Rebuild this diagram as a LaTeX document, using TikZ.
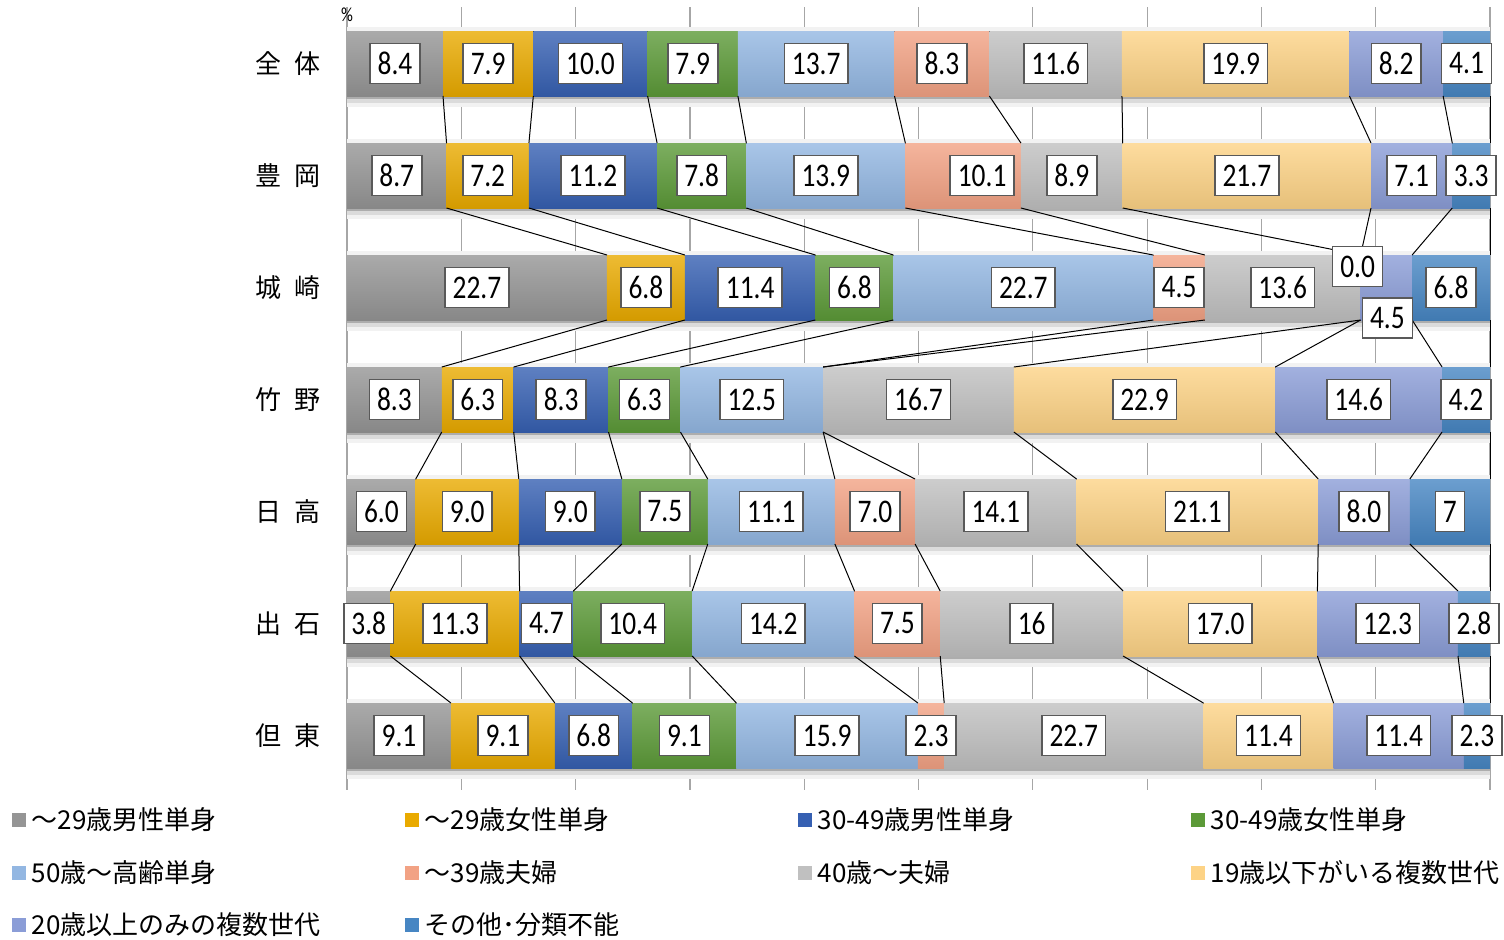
\documentclass[tikz,border=0pt]{standalone}
\usepackage{fontspec}
\setmainfont{Carlito}[FakeStretch=0.83]
\newfontfamily\jpfont{Noto Sans CJK JP}
\usetikzlibrary{positioning}

\definecolor{c1}{HTML}{959595}
\definecolor{c2}{HTML}{E9AA00}
\definecolor{c3}{HTML}{3660B2}
\definecolor{c4}{HTML}{5C9A38}
\definecolor{c5}{HTML}{93B7E2}
\definecolor{c6}{HTML}{F2A284}
\definecolor{c7}{HTML}{C0C0C0}
\definecolor{c8}{HTML}{FDD386}
\definecolor{c9}{HTML}{8B9DD7}
\definecolor{c10}{HTML}{4786C3}

\def\hhdata{%
  全\hspace{6.5pt}体/{8.4,7.9,10.0,7.9,13.7,8.3,11.6,19.9,8.2,4.1},
  豊\hspace{6.5pt}岡/{8.7,7.2,11.2,7.8,13.9,10.1,8.9,21.7,7.1,3.3},
  城\hspace{6.5pt}崎/{22.7,6.8,11.4,6.8,22.7,4.5,13.6,0.0,4.5,6.8},
  竹\hspace{6.5pt}野/{8.3,6.3,8.3,6.3,12.5,0,16.7,22.9,14.6,4.2},
  日\hspace{6.5pt}高/{6.0,9.0,9.0,7.5,11.1,7.0,14.1,21.1,8.0,7},
  出\hspace{6.5pt}石/{3.8,11.3,4.7,10.4,14.2,7.5,16,17.0,12.3,2.8},
  但\hspace{6.5pt}東/{9.1,9.1,6.8,9.1,15.9,2.3,22.7,11.4,11.4,2.3}}

\newcommand\nolabel[1]{\expandafter\def\csname skip#1\endcsname{}}
\nolabel{1-6}
\nolabel{2-8}
\nolabel{2-9}
\nolabel{3-6}

\begin{document}
\begin{tikzpicture}[x=0.5pt,y=-0.5pt,
    grid/.style={draw=black!35,line width=0.6pt},
    serie/.style={draw=black,line width=0.5pt},
    val/.style={draw=black!65,line width=0.8pt,fill=white,
        inner xsep=3.8pt,inner ysep=0pt,minimum height=20pt,
        font=\fontsize{16.5}{16.5}\selectfont},
    rowname/.style={anchor=east,inner sep=0pt,
        font=\jpfont\fontsize{13}{13}\selectfont},
    legbox/.style={minimum size=7pt,inner sep=0pt},
    legtext/.style={inner sep=0pt,font=\jpfont\fontsize{13}{13}\selectfont}]
    \useasboundingbox (0,0) rectangle (1504,939);

    \foreach \i in {0,...,10}
        \draw[grid] (347+114.3*\i,7) -- (347+114.3*\i,790);

    \node[anchor=base,inner sep=0pt,font=\fontsize{10}{10}\selectfont] (pct) at (347,21) {\%};

    \foreach \rname/\vals [count=\row from 0] in \hhdata {
        \pgfmathsetmacro\cy{63.5+112*\row}
        \fill[black!5] (347,\cy-36.5) rectangle (1490,\cy-32.5);
        \fill[black!32] (347,\cy+32.5) rectangle (1490,\cy+35.5);
        \fill[black!14] (347,\cy+35.5) rectangle (1490,\cy+39.5);
        \fill[black!5] (347,\cy+39.5) rectangle (1490,\cy+43.5);
        \xdef\tot{0}
        \foreach \v in \vals {\pgfmathsetmacro\tnew{\tot+\v}\xdef\tot{\tnew}}
        \xdef\cum{0}
        \foreach \v [count=\cat] in \vals {
            \pgfmathsetmacro\xa{347+\cum/\tot*1143}
            \pgfmathsetmacro\cnew{\cum+\v}\xdef\cum{\cnew}
            \pgfmathsetmacro\xb{347+\cum/\tot*1143}
            \ifdim\v pt>0pt
                \fill[top color=c\cat!80!white,bottom color=c\cat!91!black]
                    (\xa,\cy-32.5) rectangle (\xb,\cy+32.5);
            \fi
            \coordinate (m\row-\cat) at ({(\xa+\xb)/2},\cy);
            \coordinate (t\row-\cat) at (\xb,\cy-32.5);
            \coordinate (b\row-\cat) at (\xb,\cy+32.5);
        }
    }

    \foreach \row [evaluate=\row as \nxt using int(\row+1)] in {0,...,5}
        \foreach \cat in {1,...,10}
            \draw[serie] (b\row-\cat) -- (t\nxt-\cat);

    \foreach \rname/\vals [count=\row from 0] in \hhdata {
        \node[rowname] (row\row) at (321,63.5+112*\row) {\rname};
        \foreach \v [count=\cat] in \vals {
            \ifcsname skip\row-\cat\endcsname\else
                \node[val] (v\row-\cat) at (m\row-\cat) {\v};
            \fi
        }
    }
    \node[val] (v1-6) at ([shift={(19,0)}]m1-6) {10.1};
    \node[val] (v2-8) at ([shift={(-3,-21)}]m2-8) {0.0};
    \node[val] (v2-9) at ([shift={(1,30.5)}]m2-9) {4.5};

    \foreach \lab [count=\cat,
            evaluate=\cat as \lx using {19+393*mod(\cat-1,4)},
            evaluate=\cat as \ly using {820+52.5*int((\cat-1)/4)}] in
        {～29歳男性単身,～29歳女性単身,30-49歳男性単身,30-49歳女性単身,
         50歳～高齢単身,～39歳夫婦,40歳～夫婦,19歳以下がいる複数世代,
         20歳以上のみの複数世代,その他･分類不能} {
        \node[legbox,fill=c\cat] (leg\cat) at (\lx,\ly) {};
        \node[legtext,right=2.5pt of leg\cat] (legt\cat) {\lab};
    }
\end{tikzpicture}
\end{document}
